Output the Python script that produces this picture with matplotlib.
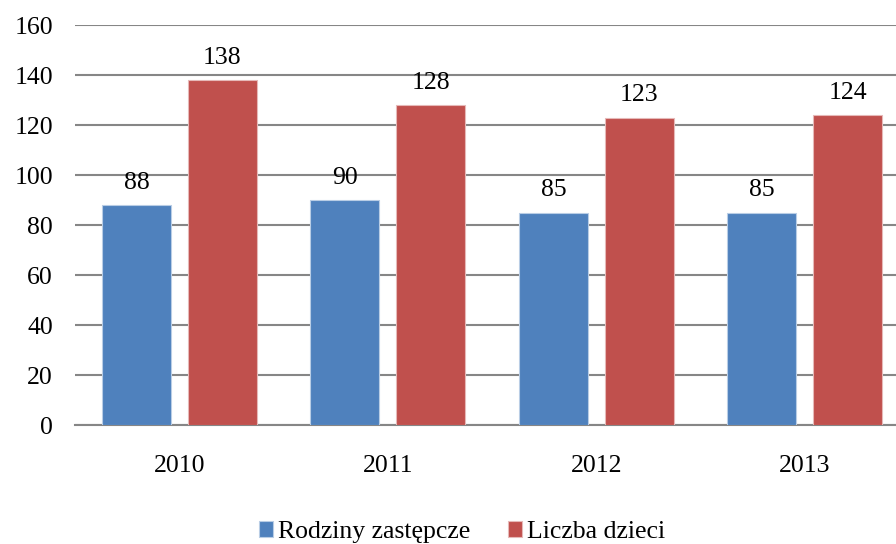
import matplotlib
matplotlib.use("Agg")
import matplotlib.pyplot as plt
import numpy as np

years = ["2010", "2011", "2012", "2013"]
rodziny = [88, 90, 85, 85]
dzieci = [138, 128, 123, 124]
series_names = ["Rodziny zastępcze", "Liczba dzieci"]
yticks = [0, 20, 40, 60, 80, 100, 120, 140, 160]

plt.rcParams['font.family'] = ['Liberation Serif', 'DejaVu Serif']
FS = 18.5

fig = plt.figure(figsize=(8.96, 5.44), dpi=100)
left = 75.25 / 896
right = 909 / 896
bottom = 1 - 425 / 544
top = 1 - 25 / 544
ax = fig.add_axes([left, bottom, right - left, top - bottom])

x = np.arange(len(years))
w = 69 / 208.5
gap = 17 / 208.5
off = (w + gap) / 2
b1 = ax.bar(x - off, rodziny, w, color='#4F81BD', edgecolor='#B9CDE5', linewidth=0.8, label=series_names[0], zorder=3)
b2 = ax.bar(x + off, dzieci, w, color='#C0504D', edgecolor='#E6B9B8', linewidth=0.8, label=series_names[1], zorder=3)

for bars, vals in ((b1, rodziny), (b2, dzieci)):
    for r, v in zip(bars, vals):
        ax.annotate(str(v), (r.get_x() + r.get_width() / 2, v), xytext=(0, 8),
                    textcoords='offset points', ha='center', va='bottom', fontsize=FS)

ax.set_xlim(-0.5, len(years) - 0.5)
ax.set_ylim(0, 160)
ax.set_yticks(yticks)
ax.set_xticks(x)
ax.set_xticklabels(years)
ax.tick_params(axis='both', length=0, labelsize=FS)
ax.tick_params(axis='y', pad=16)
ax.tick_params(axis='x', pad=21.5)
ax.yaxis.grid(True, color='#868686', linewidth=1.5, zorder=0)
ax.set_axisbelow(True)
for s in ['top', 'right', 'left']:
    ax.spines[s].set_visible(False)
ax.spines['bottom'].set_color('#868686')
ax.spines['bottom'].set_linewidth(1.5)

fig.legend(handles=[b1, b2], labels=series_names, loc='center', bbox_to_anchor=(462 / 896, 0.022),
           ncol=2, frameon=False, fontsize=FS, handlelength=0.545, handleheight=0.545,
           handletextpad=0.2, columnspacing=1.45, borderpad=0)

fig.savefig("out.png", dpi=100)
